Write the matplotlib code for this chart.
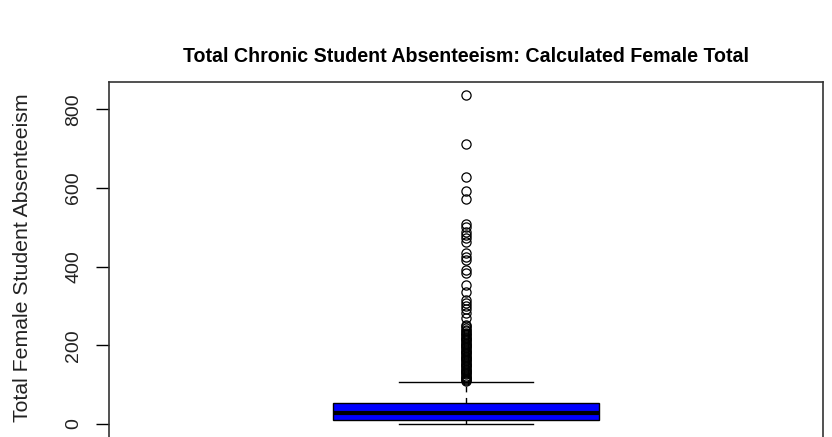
import matplotlib
matplotlib.use("Agg")
import matplotlib.pyplot as plt

# Five-number summary of the female chronic absenteeism totals
q1 = 10
median = 29
q3 = 54
whisker_low = 0
whisker_high = 107

# Values beyond the upper whisker
outliers = [
    836, 712, 628, 592, 572, 508, 501, 489, 480, 472, 463,
    434, 425, 417, 391, 384, 353, 336, 315, 308, 300, 292, 282, 269,
    252, 248, 244, 240, 236, 232, 228, 225, 222, 219, 216, 213, 210,
    207, 204, 201, 198, 195, 192, 189, 186, 183, 180, 177, 174, 171,
    168, 165, 162, 159, 156, 153, 150, 147, 144, 141, 138, 135, 132,
    129, 126, 123, 120, 117, 114, 112, 110,
]

y_ticks = [0, 200, 400, 600, 800]
title = "Total Chronic Student Absenteeism: Calculated Female Total"
y_label = "Total Female Student Absenteeism"

plt.rcParams["font.family"] = ["Liberation Sans", "DejaVu Sans"]

W, H = 832, 437
fig = plt.figure(figsize=(W / 100, H / 100), dpi=100)
left_px, right_px, top_px, bottom_px = 109, 823, 82.3, 440
ax = fig.add_axes([left_px / W, 1 - bottom_px / H,
                   (right_px - left_px) / W, (bottom_px - top_px) / H])

stats = [dict(med=median, q1=q1, q3=q3, whislo=whisker_low,
              whishi=whisker_high, fliers=outliers)]
ax.bxp(stats, positions=[1], widths=0.373, patch_artist=True,
       showfliers=True,
       boxprops=dict(facecolor="#0000FF", edgecolor="black", linewidth=1.0),
       medianprops=dict(color="black", linewidth=3.0, solid_capstyle="butt"),
       whiskerprops=dict(color="black", linewidth=1.0, linestyle=(0, (4, 4))),
       capprops=dict(color="black", linewidth=1.0),
       flierprops=dict(marker="o", markerfacecolor="none",
                       markeredgecolor="black", markersize=6.6,
                       markeredgewidth=0.9, linestyle="none"))

ax.set_xlim(0.5, 1.5)
ax.set_ylim(-40.7, 868.6)
ax.set_xticks([])
ax.set_yticks(y_ticks)
ax.set_yticklabels([str(t) for t in y_ticks], rotation=90, va="center",
                   fontsize=14)
ax.tick_params(axis="y", direction="out", length=9.4, width=1.0, pad=10,
               colors="black", labelcolor="#222222")
for side in ["left", "right", "top", "bottom"]:
    ax.spines[side].set_color("#333333")
    ax.spines[side].set_linewidth(1.2)

ax.set_ylabel(y_label, fontsize=15.3, color="#222222")
ax.yaxis.set_label_coords(-0.108, 0.51)
fig.text(0.5595, 1 - 57 / H, title, ha="center", va="center",
         fontsize=14.15, fontweight="bold")

fig.savefig("out.png", dpi=100)
